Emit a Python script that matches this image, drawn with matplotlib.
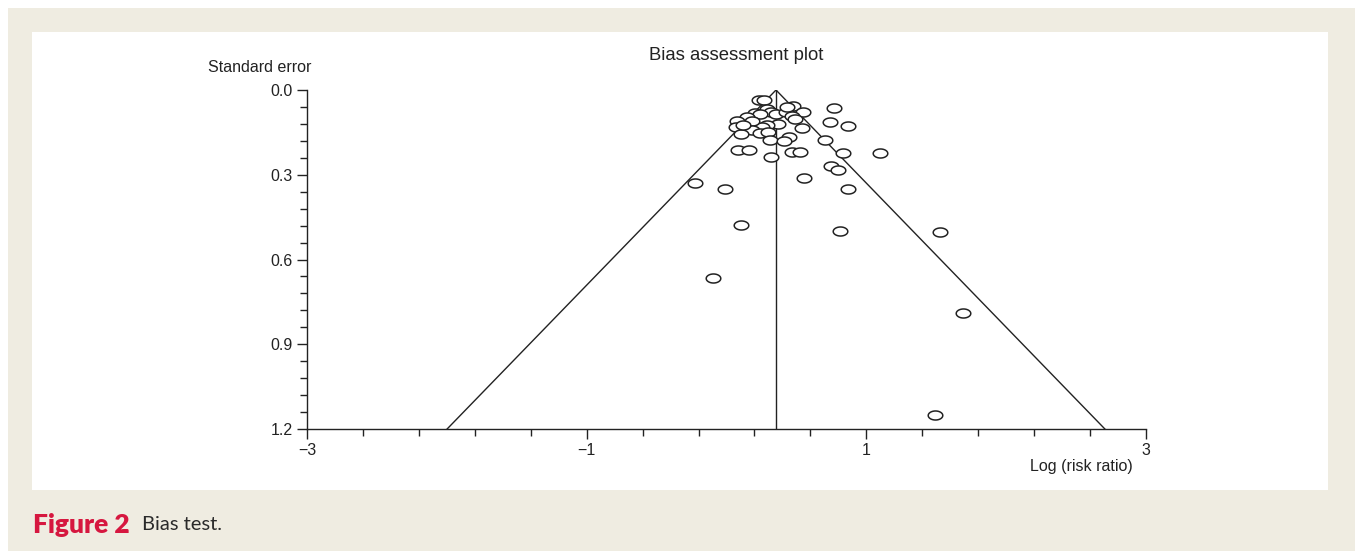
import matplotlib
matplotlib.use("Agg")
import matplotlib.pyplot as plt
import numpy as np
from matplotlib.patches import Rectangle
from matplotlib.path import Path
from matplotlib.ticker import FixedLocator

# study estimates: log risk ratio and standard error
log_rr = [0.232, 0.268, 0.769, 0.476, 0.547, 0.290, 0.318, 0.354, 0.204, 0.240,
          0.147, 0.075, 0.068, 0.426, 0.469, 0.490, 0.740, 0.869, 0.540, 0.368,
          0.290, 0.254, 0.182, 0.182, 0.240, 0.297, 0.104, 0.311, 0.447, 0.411,
          0.705, 0.082, 0.161, 0.468, 0.526, 0.833, 1.097, 0.318, 0.748, 0.798,
          0.554, -0.225, -0.011, 0.869, 0.104, 0.812, 1.527, -0.097, 1.692, 1.492,
          0.436, 0.120]
std_err = [0.035, 0.035, 0.064, 0.057, 0.078, 0.067, 0.078, 0.085, 0.081, 0.085,
           0.096, 0.110, 0.131, 0.078, 0.092, 0.103, 0.113, 0.127, 0.135, 0.120,
           0.124, 0.131, 0.110, 0.142, 0.152, 0.149, 0.156, 0.177, 0.166, 0.181,
           0.177, 0.212, 0.212, 0.219, 0.219, 0.223, 0.223, 0.237, 0.269, 0.283,
           0.312, 0.329, 0.350, 0.350, 0.478, 0.499, 0.503, 0.665, 0.789, 1.150,
           0.060, 0.124]
pooled = 0.354
se_max = 1.2

W, H = 1355, 551
fig = plt.figure(figsize=(W / 100, H / 100), dpi=100)
fig.patch.set_facecolor("white")
fig.patches.append(Rectangle((8 / W, 0), 1, 1 - 8 / H, transform=fig.transFigure,
                             facecolor="#efece1", edgecolor="none", zorder=-2))
fig.patches.append(Rectangle((32 / W, 1 - 490 / H), (1328 - 32) / W, (490 - 32) / H,
                             transform=fig.transFigure, facecolor="white",
                             edgecolor="none", zorder=-1))

ax = fig.add_axes([307 / W, 1 - 429 / H, (1146 - 307) / W, (429 - 90) / H])
ax.set_zorder(2)
ax.patch.set_alpha(0)
for s in ["top", "right"]:
    ax.spines[s].set_visible(False)
for s in ["left", "bottom"]:
    ax.spines[s].set_linewidth(1.0)
    ax.spines[s].set_color("#222222")

# funnel
ax.plot([pooled - 1.96 * se_max, pooled, pooled + 1.96 * se_max], [se_max, 0, se_max],
        color="#222222", lw=1.0, zorder=2)
ax.plot([pooled, pooled], [0, se_max], color="#222222", lw=1.0, zorder=2)

t = np.linspace(0, 2 * np.pi, 40)
ell = Path(np.column_stack([np.cos(t), 0.62 * np.sin(t)]), closed=True)
ax.plot(log_rr, std_err, linestyle="none", marker=ell, markersize=10.5,
        markerfacecolor="white", markeredgecolor="#222222", markeredgewidth=1.1,
        zorder=3, clip_on=False)

ax.set_xlim(-3, 3)
ax.set_ylim(se_max, 0)
ax.xaxis.set_major_locator(FixedLocator([-3, -1, 1, 3]))
ax.xaxis.set_minor_locator(FixedLocator(np.arange(-3, 3.01, 0.4)))
ax.yaxis.set_major_locator(FixedLocator([0, 0.3, 0.6, 0.9, 1.2]))
ax.yaxis.set_minor_locator(FixedLocator(np.arange(0, 1.21, 0.06)))
ax.set_xticklabels(["\u22123", "\u22121", "1", "3"])
ax.set_yticklabels(["0.0", "0.3", "0.6", "0.9", "1.2"])
ax.tick_params(which="major", length=7, width=1.0, color="#222222",
               labelsize=11.5, labelcolor="#222222", pad=3)
ax.tick_params(which="minor", length=5, width=1.0, color="#222222")
for lab in ax.get_xticklabels() + ax.get_yticklabels():
    lab.set_family("Liberation Sans")

fig.text(736 / W, 1 - 55 / H, "Bias assessment plot", ha="center", va="center",
         fontsize=13.3, family="Liberation Sans", color="#222222")
fig.text(260 / W, 1 - 67 / H, "Standard error", ha="center", va="center",
         fontsize=11.5, family="Liberation Sans", color="#222222")
fig.text(1081 / W, 1 - 466 / H, "Log (risk ratio)", ha="center", va="center",
         fontsize=11.5, family="Liberation Sans", color="#222222")

fig.text(33 / W, 1 - 525 / H, "Figure 2", ha="left", va="center", fontsize=19,
         fontweight="heavy", family="Lato", color="#d6173f")
fig.text(142 / W, 1 - 525 / H, "Bias test.", ha="left", va="center", fontsize=14.5,
         family="Lato", color="#2a2a2a")

fig.savefig("out.png", dpi=100)
